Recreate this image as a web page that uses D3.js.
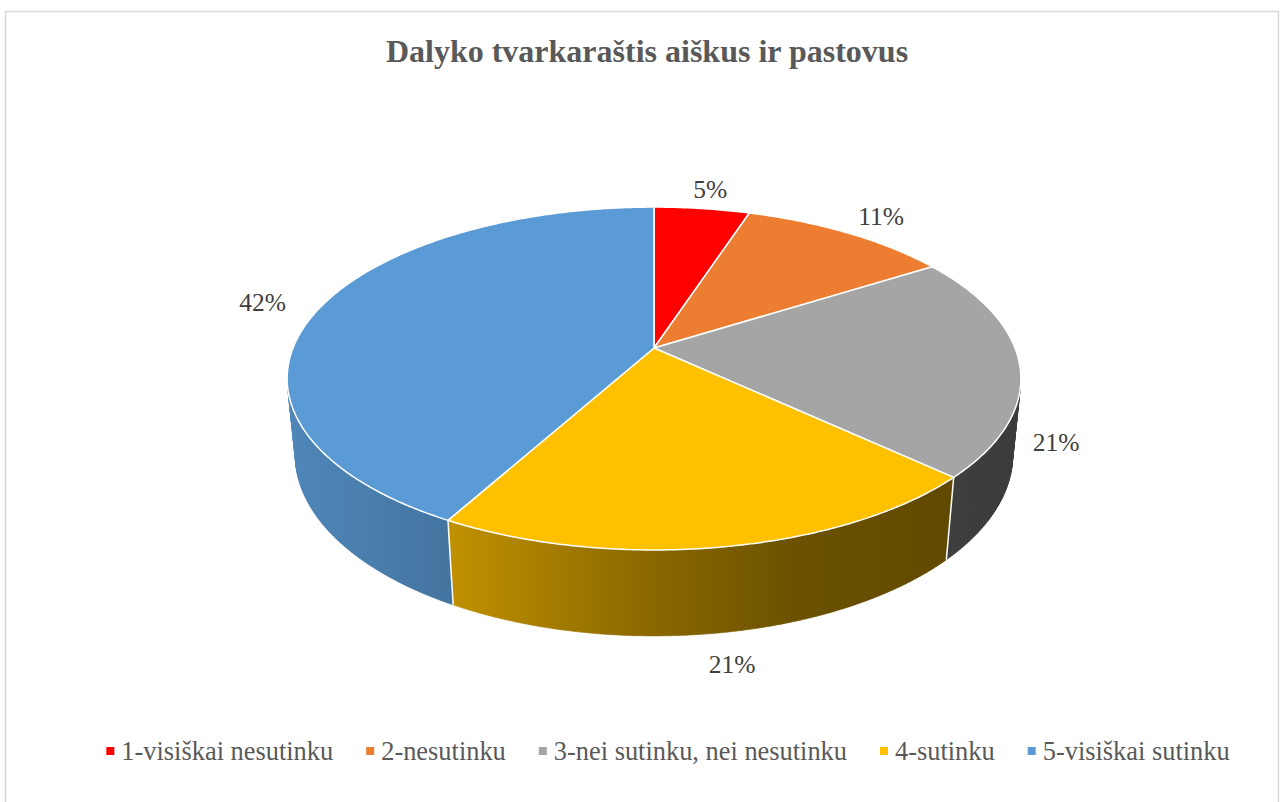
<!DOCTYPE html>
<html lang="lt">
<head>
<meta charset="UTF-8"/>
<title>Dalyko tvarkaraštis aiškus ir pastovus</title>
<script src="https://d3js.org/d3.v7.min.js"></script>
<style>
  body { margin: 0; background: #fff; }
  svg { display: block; }
  svg text { font-family: "Liberation Serif", "Times New Roman", serif; }
</style>
</head>
<body>
<div id="chart"></div>
<script>
// Data
var categories = ["1-visiškai nesutinku", "2-nesutinku", "3-nei sutinku, nei nesutinku", "4-sutinku", "5-visiškai sutinku"];
var values = [5, 11, 21, 21, 42];
var labels = ["5%", "11%", "21%", "21%", "42%"];
var colors = ["#FF0000", "#ED7D31", "#A5A5A5", "#FFC000", "#5B9BD5"];

var w = 1288, h = 802;

// 3D pie geometry (perspective)
var cx = 654, cy = 348;
var A = 361, B = 166, D = 77;   // x radius, y radius, thickness
var k = 0.178, m = 0.022;       // perspective factors

function proj(theta, r, z) {
    var u = r * Math.sin(theta), v = -r * Math.cos(theta);
    var s = 1 / (1 - k * v + m * z);
    return [cx + A * u * s, cy + (B * v + D * z) * s];
}

var svg = d3.select("#chart").append("svg")
    .attr("width", w)
    .attr("height", h);

// chart border
svg.append("rect")
    .attr("x", 5.5).attr("y", 11.5)
    .attr("width", 1273).attr("height", 820)
    .attr("fill", "#fff")
    .attr("stroke", "#D9D9D9")
    .attr("stroke-width", 1.5);

// title
svg.append("text")
    .attr("x", 647).attr("y", 62)
    .attr("text-anchor", "middle")
    .attr("font-size", "32px")
    .attr("font-weight", "bold")
    .attr("fill", "#595959")
    .text("Dalyko tvarkaraštis aiškus ir pastovus");

var pie = d3.pie().sort(null).value(function(d) { return d; });
var arcs = pie(values);

// side shading across the pie, darker to the right
var shade = d3.scaleLinear()
    .domain([287, 453, 640, 800, 1021])
    .range([0.87, 0.75, 0.55, 0.42, 0.36]);

var defs = svg.append("defs");
colors.forEach(function(c, i) {
    var g = defs.append("linearGradient")
        .attr("id", "wall" + i)
        .attr("gradientUnits", "userSpaceOnUse")
        .attr("x1", 287).attr("x2", 1021).attr("y1", 0).attr("y2", 0);
    shade.domain().forEach(function(x) {
        var f = shade(x), base = d3.rgb(c);
        g.append("stop")
            .attr("offset", (x - 287) / (1021 - 287))
            .attr("stop-color", d3.rgb(base.r * f, base.g * f, base.b * f).formatHex());
    });
});

function area(p) {
    var a = 0;
    for (var i = 0; i < p.length; i++) {
        var q = p[(i + 1) % p.length];
        a += p[i][0] * q[1] - q[0] * p[i][1];
    }
    return a / 2;
}

var step = Math.PI / 360;

// outer walls (only faces turned to the viewer)
var walls = svg.append("g");
arcs.forEach(function(a, i) {
    var d = "";
    for (var t = a.startAngle; t < a.endAngle - 1e-9; t += step) {
        var t2 = Math.min(t + step, a.endAngle);
        var quad = [proj(t, 1, 0), proj(t2, 1, 0), proj(t2, 1, 1), proj(t, 1, 1)];
        if (area(quad) < 0) {
            d += "M" + quad.map(function(p) { return p[0].toFixed(2) + "," + p[1].toFixed(2); }).join("L") + "Z";
        }
    }
    if (d) {
        walls.append("path")
            .attr("d", d)
            .attr("fill", "url(#wall" + i + ")")
            .attr("stroke", "url(#wall" + i + ")")
            .attr("stroke-width", 0.6);
    }
});

// white edges on the walls at slice borders
arcs.forEach(function(a) {
    var t = a.startAngle, e = step / 4;
    var quad = [proj(t - e, 1, 0), proj(t + e, 1, 0), proj(t + e, 1, 1), proj(t - e, 1, 1)];
    if (area(quad) < 0) {
        walls.append("line")
            .attr("x1", proj(t, 1, 0)[0]).attr("y1", proj(t, 1, 0)[1])
            .attr("x2", proj(t, 1, 1)[0]).attr("y2", proj(t, 1, 1)[1])
            .attr("stroke", "#fff")
            .attr("stroke-width", 1.5);
    }
});

// top faces
var tops = svg.append("g");
arcs.forEach(function(a, i) {
    var pts = [proj(0, 0, 0)];
    for (var t = a.startAngle; t < a.endAngle; t += step) pts.push(proj(t, 1, 0));
    pts.push(proj(a.endAngle, 1, 0));
    tops.append("path")
        .attr("d", d3.line()(pts) + "Z")
        .attr("fill", colors[i])
        .attr("stroke", "#fff")
        .attr("stroke-width", 1.5)
        .attr("stroke-linejoin", "round");
});

// data labels: back labels sit off the top rim, front labels off the bottom rim
function labelPos(a) {
    var mid = (a.startAngle + a.endAngle) / 2;
    var front = -Math.cos(mid) > 0;
    var p = proj(mid, front ? 1.12 : 1.17, front ? 1 : 0);
    p[0] += 10 * Math.sin(mid) * Math.abs(Math.cos(mid));
    return p;
}
svg.append("g").selectAll("text")
    .data(arcs)
    .enter()
    .append("text")
    .attr("x", function(a) { return labelPos(a)[0]; })
    .attr("y", function(a) { return labelPos(a)[1]; })
    .attr("dy", "0.35em")
    .attr("text-anchor", "middle")
    .attr("font-size", "25.5px")
    .attr("fill", "#404040")
    .text(function(a, i) { return labels[i]; });

// legend
var legend = svg.append("g");
var items = legend.selectAll("g")
    .data(categories)
    .enter()
    .append("g");
items.append("rect")
    .attr("width", 8).attr("height", 8)
    .attr("y", -13)
    .attr("fill", function(d, i) { return colors[i]; });
items.append("text")
    .attr("x", 15)
    .attr("font-size", "26.4px")
    .attr("fill", "#595959")
    .text(function(d) { return d; });

var xpos = 0, offs = [];
items.each(function() {
    offs.push(xpos);
    xpos += 15 + d3.select(this).select("text").node().getComputedTextLength() + 33;
});
var total = xpos - 33;
var startX = 668 - total / 2;
items.attr("transform", function(d, i) { return "translate(" + (startX + offs[i]) + ",760)"; });
</script>
</body>
</html>
